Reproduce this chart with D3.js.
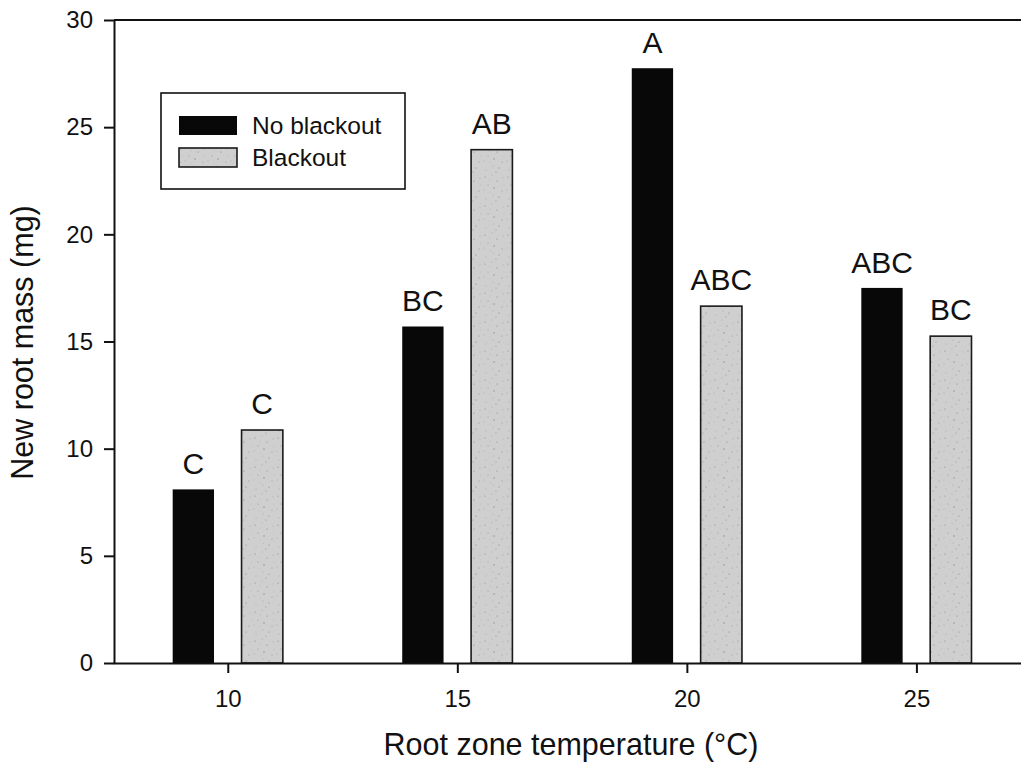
<!DOCTYPE html>
<html><head><meta charset="utf-8">
<script src="https://cdn.jsdelivr.net/npm/d3@7"></script>
<style>body{margin:0;background:#fff}svg{display:block}text{font-family:"Liberation Sans",Arial,sans-serif;fill:#111}</style>
</head><body>
<script>
const temperatures = [10, 15, 20, 25];
const noBlackout = [8.1, 15.7, 27.75, 17.5];
const blackout = [10.87, 23.95, 16.65, 15.25];
const noBlackoutLetters = ["C", "BC", "A", "ABC"];
const blackoutLetters = ["C", "AB", "ABC", "BC"];
const seriesNames = ["No blackout", "Blackout"];
const yTicks = [0, 5, 10, 15, 20, 25, 30];
const xTicks = [10, 15, 20, 25];

const W = 1021, H = 771;
const svg = d3.select("body").append("svg").attr("width", W).attr("height", H);

const x = d3.scaleLinear().domain([7.5, 27.3]).range([113, 1022]);
const y = d3.scaleLinear().domain([0, 30]).range([663, 20]);

const defs = svg.append("defs");
const pat = defs.append("pattern").attr("id", "speck").attr("patternUnits", "userSpaceOnUse")
  .attr("width", 23).attr("height", 29);
pat.append("rect").attr("width", 23).attr("height", 29).attr("fill", "#cfcfcf");
[[2,3,0.6],[9,1,0.45],[14,7,0.6],[5,11,0.5],[11,14,0.7],[1,16,0.45],[7,6,0.35],[19,17,0.5],
 [20,4,0.4],[16,23,0.6],[3,25,0.45],[10,21,0.4],[21,11,0.35],[13,27,0.5],[7,18,0.3]].forEach(d => {
  pat.append("circle").attr("cx", d[0]).attr("cy", d[1]).attr("r", d[2]).attr("fill", "#8a8a8a");
});

const bw = 0.9, off = 0.75;
const data = temperatures.map((t, i) => ({t, a: noBlackout[i], b: blackout[i], la: noBlackoutLetters[i], lb: blackoutLetters[i]}));

// bars
svg.append("g").selectAll("rect").data(data).join("rect")
  .attr("x", d => x(d.t - off - bw / 2)).attr("width", d => x(d.t - off + bw / 2) - x(d.t - off - bw / 2))
  .attr("y", d => y(d.a)).attr("height", d => y(0) - y(d.a))
  .attr("fill", "#080808");
svg.append("g").selectAll("rect").data(data).join("rect")
  .attr("x", d => x(d.t + off - bw / 2)).attr("width", d => x(d.t + off + bw / 2) - x(d.t + off - bw / 2))
  .attr("y", d => y(d.b)).attr("height", d => y(0) - y(d.b))
  .attr("fill", "url(#speck)").attr("stroke", "#1a1a1a").attr("stroke-width", 1.6);

// letters
const lab = svg.append("g").attr("font-size", 30).attr("text-anchor", "middle");
lab.selectAll("text.a").data(data).join("text").attr("class", "a")
  .attr("x", d => x(d.t - off)).attr("y", d => y(d.a) - 15).text(d => d.la);
lab.selectAll("text.b").data(data).join("text").attr("class", "b")
  .attr("x", d => x(d.t + off)).attr("y", d => y(d.b) - 16).text(d => d.lb);

// axes
const yAxis = svg.append("g").attr("transform", `translate(${x(7.5) + 1},0)`)
  .call(d3.axisLeft(y).tickValues(yTicks).tickSize(10).tickSizeOuter(0).tickPadding(11));
const xAxis = svg.append("g").attr("transform", `translate(0,${y(0)})`)
  .call(d3.axisBottom(x).tickValues(xTicks).tickSize(10).tickSizeOuter(0).tickPadding(17));
[yAxis, xAxis].forEach(g => {
  g.selectAll("path, line").attr("stroke", "#111").attr("stroke-width", 2);
  g.selectAll("text").attr("font-size", 24).attr("font-family", '"Liberation Sans",Arial,sans-serif').attr("fill", "#111");
});
// top frame
svg.append("line").attr("x1", x(7.5) + 1).attr("x2", W).attr("y1", y(30)).attr("y2", y(30))
  .attr("stroke", "#111").attr("stroke-width", 2);

// titles
svg.append("text").attr("x", 571).attr("y", 755).attr("text-anchor", "middle").attr("font-size", 30.5)
  .text("Root zone temperature (°C)");
svg.append("text").attr("transform", `translate(33,${(y(0) + y(30)) / 2 + 1}) rotate(-90)`)
  .attr("text-anchor", "middle").attr("font-size", 30.5).text("New root mass (mg)");

// legend
const lg = svg.append("g");
lg.append("rect").attr("x", 161).attr("y", 93).attr("width", 244).attr("height", 96)
  .attr("fill", "#fff").attr("stroke", "#111").attr("stroke-width", 1.6);
lg.append("rect").attr("x", 179).attr("y", 116).attr("width", 58).attr("height", 19).attr("fill", "#080808");
lg.append("rect").attr("x", 179).attr("y", 148).attr("width", 58).attr("height", 19)
  .attr("fill", "url(#speck)").attr("stroke", "#1a1a1a").attr("stroke-width", 1.6);
lg.append("text").attr("x", 252).attr("y", 134).attr("font-size", 24.5).text(seriesNames[0]);
lg.append("text").attr("x", 252).attr("y", 166).attr("font-size", 24.5).text(seriesNames[1]);
</script>
</body></html>
